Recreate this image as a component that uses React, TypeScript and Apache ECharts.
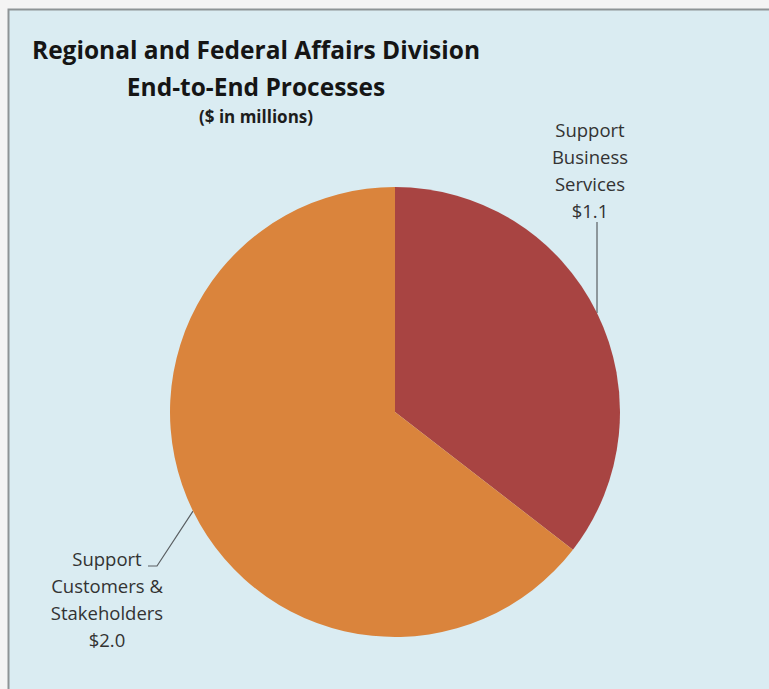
import React, { useEffect, useRef } from "react";
import * as echarts from "echarts";

const categories = ["Support\nBusiness\nServices", "Support\nCustomers &\nStakeholders"];
const values = [1.1, 2.0];
const colors = ["#A84442", "#DA843C"];
const titleLines = ["Regional and Federal Affairs Division", "End-to-End Processes"];
const subtitle = "($ in millions)";

export default function App() {
  const ref = useRef<HTMLDivElement>(null);
  useEffect(() => {
    if (!ref.current) return;
    const chart = echarts.init(ref.current, undefined, { renderer: "svg" });
    const center = [395, 412];
    const radius = 225;
    const total = values.reduce((a, b) => a + b, 0);
    const midPoint = (i: number) => {
      let before = 0;
      for (let k = 0; k < i; k++) before += values[k];
      const ang = ((before + values[i] / 2) / total) * 2 * Math.PI;
      return [center[0] + radius * Math.sin(ang), center[1] - radius * Math.cos(ang)];
    };
    chart.setOption({
      animation: false,
      backgroundColor: "transparent",
      graphic: [
        {
          type: "rect",
          z: -10,
          shape: { x: 8.5, y: 9.5, width: 800, height: 800 },
          style: { fill: "#DAECF2", stroke: "#8E9496", lineWidth: 2 },
        },
      ],
      title: {
        text: titleLines.join("\n"),
        subtext: subtitle,
        left: 256,
        top: 31,
        textAlign: "center",
        padding: 0,
        itemGap: 0,
        textStyle: {
          fontFamily: "Open Sans",
          fontWeight: "bold",
          fontSize: 24.5,
          lineHeight: 37,
          color: "#151515",
        },
        subtextStyle: {
          fontFamily: "Open Sans",
          fontWeight: "bold",
          fontSize: 17,
          lineHeight: 22,
          color: "#1d1d1d",
        },
      },
      series: [
        {
          type: "pie",
          center,
          radius,
          startAngle: 90,
          clockwise: true,
          avoidLabelOverlap: false,
          data: categories.map((name, i) => ({
            name,
            value: values[i],
            itemStyle: { color: colors[i] },
          })),
          label: {
            show: true,
            position: "outside",
            formatter: (p: any) => `${p.name}\n$${Number(p.value).toFixed(1)}`,
            fontFamily: "Open Sans",
            fontSize: 18.5,
            lineHeight: 27,
            color: "#333333",
            align: "center",
          },
          labelLine: {
            show: true,
            length: 10,
            length2: 10,
            lineStyle: { color: "#5a5f62", width: 1.2 },
          },
          labelLayout: (params: any) => {
            const i = params.dataIndex;
            const start =
              params.labelLinePoints && params.labelLinePoints[0]
                ? params.labelLinePoints[0]
                : midPoint(i);
            if (i === 0) {
              return {
                x: 590,
                y: 224,
                align: "center",
                verticalAlign: "bottom",
                labelLinePoints: [start, [start[0], 222], [start[0], 222]],
              };
            }
            return {
              x: 107,
              y: 545,
              align: "center",
              verticalAlign: "top",
              labelLinePoints: [start, [157, 566], [148, 566]],
            };
          },
        },
      ],
    });
    return () => chart.dispose();
  }, []);
  return (
    <div
      style={{
        position: "absolute",
        left: 0,
        top: 0,
        width: 769,
        height: 689,
        background: "#F4F4F4",
      }}
    >
      <div ref={ref} style={{ width: 769, height: 689 }} />
    </div>
  );
}
